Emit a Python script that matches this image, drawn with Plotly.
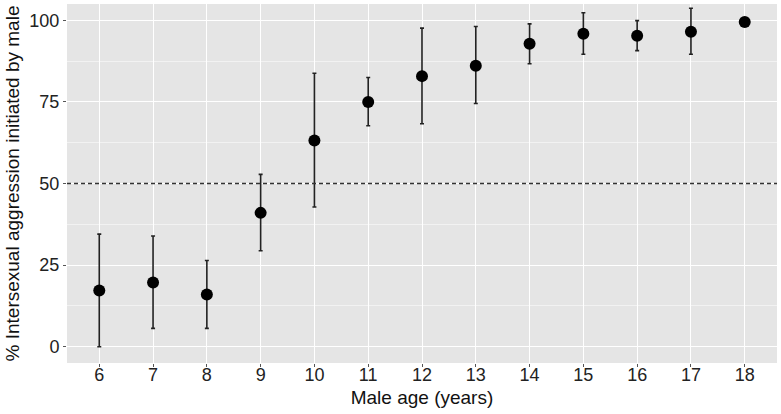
import plotly.graph_objects as go

ages = [6, 7, 8, 9, 10, 11, 12, 13, 14, 15, 16, 17, 18]
pct_male = [17.2, 19.7, 16.0, 41.0, 63.2, 75.0, 82.9, 86.1, 92.8, 95.9, 95.3, 96.5, 99.5]
upper = [34.5, 33.9, 26.4, 52.8, 83.8, 82.5, 97.6, 98.1, 98.9, 102.3, 99.9, 103.7, 99.5]
lower = [0.0, 5.6, 5.6, 29.4, 42.8, 67.7, 68.3, 74.5, 86.7, 89.6, 90.7, 89.6, 99.5]
y_ticks = [0, 25, 50, 75, 100]
reference_level = 50

err_plus = [u - p for u, p in zip(upper, pct_male)]
err_minus = [p - l for p, l in zip(pct_male, lower)]

font_family = "Liberation Sans, Arial, sans-serif"

fig = go.Figure()
fig.add_trace(go.Scatter(
    x=ages, y=pct_male, mode="markers",
    marker=dict(color="black", size=12, line=dict(width=0)),
    error_y=dict(type="data", symmetric=False, array=err_plus, arrayminus=err_minus,
                 color="#222222", thickness=1.6, width=2),
    showlegend=False, hoverinfo="skip",
))

fig.add_shape(type="line", xref="paper", x0=0, x1=1, yref="y",
              y0=reference_level, y1=reference_level,
              line=dict(color="#333333", width=1.3, dash="4px,3px"), layer="above")

fig.update_layout(
    template="none",
    width=781, height=414,
    margin=dict(l=67, r=4, t=4, b=51, autoexpand=False),
    paper_bgcolor="white", plot_bgcolor="#E5E5E5",
    font=dict(family=font_family, color="#1a1a1a"),
)
fig.update_xaxes(
    automargin=False,
    range=[5.4, 18.6], tickmode="array", tickvals=ages, ticktext=[str(a) for a in ages],
    showgrid=True, gridcolor="white", gridwidth=1.1, zeroline=False,
    ticks="outside", ticklen=3, tickcolor="#555555", tickwidth=1,
    ticklabelstandoff=-8,
    tickfont=dict(size=18, color="#222222"),
    title=dict(text="Male age (years)", font=dict(size=19, color="#111111"), standoff=7),
    showline=False,
)
fig.update_yaxes(
    automargin=False,
    range=[-5, 105], tickmode="array", tickvals=y_ticks, ticktext=[str(v) for v in y_ticks],
    showgrid=True, gridcolor="white", gridwidth=1.1, zeroline=False,
    minor=dict(tickvals=[12.5, 37.5, 62.5, 87.5], showgrid=True, gridcolor="#F2F2F2", gridwidth=0.6),
    ticks="outside", ticklen=3, tickcolor="#555555", tickwidth=1,
    tickfont=dict(size=18, color="#222222"),
    title=dict(text="% Intersexual aggression initiated by male", font=dict(size=19, color="#111111"), standoff=4),
    showline=False,
)

fig.write_html("out.html", config={"displayModeBar": False},
               post_script="document.body.style.margin='0';document.body.style.overflow='hidden';")
